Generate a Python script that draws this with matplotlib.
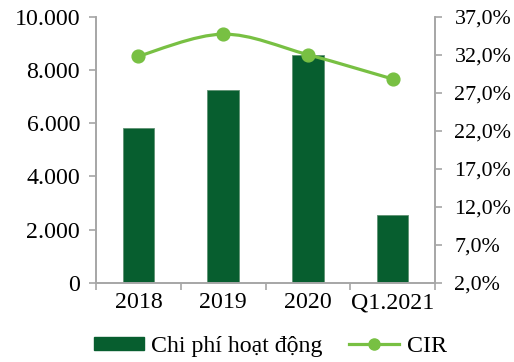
import matplotlib.pyplot as plt
import numpy as np
from matplotlib.path import Path
from matplotlib.patches import PathPatch
from matplotlib.lines import Line2D
from matplotlib.patches import Patch

plt.rcParams['font.family'] = ['Liberation Serif', 'DejaVu Serif']

categories = ["2018", "2019", "2020", "Q1.2021"]
chi_phi = [5800, 7260, 8570, 2545]
cir = [31.8, 34.7, 32.0, 28.8]

left_ticks = [0, 2000, 4000, 6000, 8000, 10000]
left_labels = ["0", "2.000", "4.000", "6.000", "8.000", "10.000"]
right_ticks = [2, 7, 12, 17, 22, 27, 32, 37]
right_labels = ["2,0%", "7,0%", "12,0%", "17,0%", "22,0%", "27,0%", "32,0%", "37,0%"]

bar_color = "#075e2f"
line_color = "#78c043"
axis_color = "#a6a6a6"
fs = 17.2

fig = plt.figure(figsize=(5.14, 3.62), dpi=100)
ax = fig.add_axes([0.1868, 0.219, 0.6595, 0.735])
ax2 = ax.twinx()

x = np.arange(len(categories))
ax.bar(x, chi_phi, width=0.374, color=bar_color, edgecolor="#5f9273", linewidth=0.6, zorder=2)
ax.set_xlim(-0.5, len(categories) - 0.5)
ax.set_ylim(0, 10000)
ax.set_yticks(left_ticks)
ax.set_yticklabels(left_labels)
ax.set_xticks(x)
ax.set_xticklabels(categories)
ax.set_xticks(np.arange(len(categories) + 1) - 0.5, minor=True)
ax.tick_params(axis="x", which="major", length=0, pad=7, labelsize=fs)
ax.tick_params(axis="x", which="minor", length=5, width=1.2, color=axis_color, direction="out")
ax.tick_params(axis="y", length=5, width=1.2, color=axis_color, labelsize=fs, pad=6.5)

ax2.set_ylim(2, 37)
ax2.set_yticks(right_ticks)
ax2.set_yticklabels(right_labels)
ax2.tick_params(axis="y", length=5, width=1.2, color=axis_color, labelsize=15.8, pad=9)

for a in (ax, ax2):
    a.spines["top"].set_visible(False)
    for side in ("left", "right", "bottom"):
        a.spines[side].set_color(axis_color)
        a.spines[side].set_linewidth(1.2)

# smooth CIR curve: cubic Bezier segments through the points (Catmull-Rom style)
pts = np.column_stack([x, cir]).astype(float)
verts = [pts[0]]
codes = [Path.MOVETO]
for i in range(len(pts) - 1):
    p0 = pts[i - 1] if i > 0 else pts[i]
    p1 = pts[i]
    p2 = pts[i + 1]
    p3 = pts[i + 2] if i + 2 < len(pts) else pts[i + 1]
    c1 = p1 + (p2 - p0) / 6
    c2 = p2 - (p3 - p1) / 6
    verts += [c1, c2, p2]
    codes += [Path.CURVE4] * 3
ax2.add_patch(PathPatch(Path(verts, codes), facecolor="none", edgecolor=line_color, linewidth=2.3, zorder=3))
ax2.plot(x, cir, linestyle="none", marker="o", markersize=9.2, color=line_color, zorder=4)

handles = [Patch(facecolor=bar_color, edgecolor=bar_color),
           Line2D([0], [0], color=line_color, linewidth=2.3, marker="o", markersize=8)]
fig.legend(handles, ["Chi phí hoạt động", "CIR"], loc="lower center", bbox_to_anchor=(0.526, -0.025),
           ncol=2, frameon=False, fontsize=fs, handlelength=2.1, handleheight=0.45,
           columnspacing=1.1, handletextpad=0.3, borderaxespad=0.2)

fig.savefig("out.png", dpi=100)
